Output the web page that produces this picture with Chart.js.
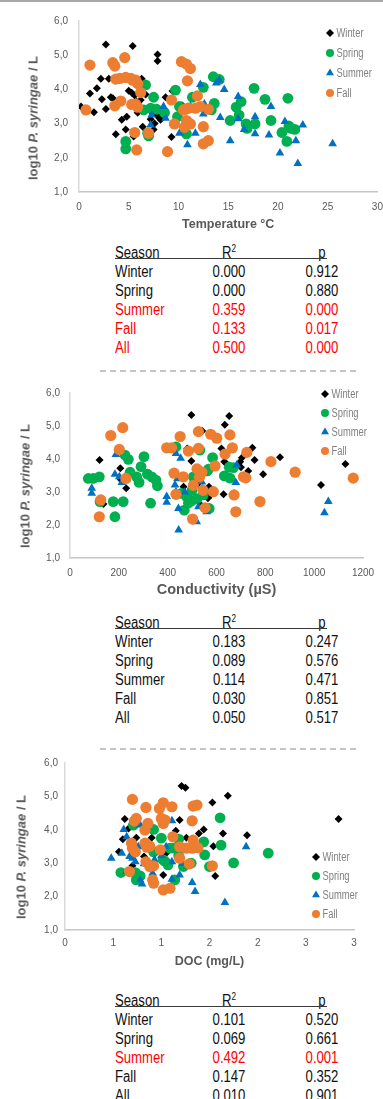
<!DOCTYPE html>
<html>
<head>
<meta charset="utf-8">
<script src="https://cdn.jsdelivr.net/npm/chart.js@4.4.1/dist/chart.umd.min.js"></script>
<style>
  html, body { margin: 0; padding: 0; background: #fff; }
  body { position: relative; width: 383px; height: 1099px; overflow: hidden; font-family: "Liberation Sans", Arial, sans-serif; }
  .topline { position: absolute; left: 0; top: 0; width: 383px; height: 2px; background: #a8a8a8; }
  canvas { position: absolute; left: 0; }
  .ytitle { position: absolute; font: bold 13px "Liberation Sans", Arial, sans-serif; color: #595959; white-space: nowrap; transform: translate(-50%, -50%) rotate(-90deg); }
  .cell { position: absolute; font-family: "Liberation Sans", Arial, sans-serif; font-size: 16px; line-height: 19px; height: 19px; white-space: nowrap; color: #111; }
  .cell.l { transform-origin: left center; transform: scaleX(0.82); }
  .cell.c { transform: translateX(-50%) scaleX(0.82); }
  .cell sup { font-size: 10px; line-height: 0; }
  .rule { position: absolute; left: 115px; width: 212px; height: 1.5px; background: #3a3a3a; }
  .dash { position: absolute; left: 100px; width: 258px; height: 1.5px; background: repeating-linear-gradient(to right, #c4c4c4 0 6px, transparent 6px 10px); }
</style>
</head>
<body>
<div class="topline"></div>

<canvas id="tempChart" width="383" height="240" style="top:0px"></canvas>
<div class="ytitle" style="left:33px; top:118px">log10 <i>P. syringae</i> / L</div>
<div id="tempTable"></div>
<div class="dash" style="top:370px"></div>

<canvas id="condChart" width="383" height="225" style="top:380px"></canvas>
<div class="ytitle" style="left:25px; top:486px">log10 <i>P. syringae</i> / L</div>
<div id="condTable"></div>
<div class="dash" style="top:748px"></div>

<canvas id="docChart" width="383" height="223" style="top:752px"></canvas>
<div class="ytitle" style="left:21px; top:857px">log10 <i>P. syringae</i> / L</div>
<div id="docTable"></div>

<script>
// Seizoenen en hun weergave
const seasonNames = ['Winter', 'Spring', 'Summer', 'Fall'];
const seasonColors = ['#000000', '#00B050', '#0070C0', '#ED7D31'];
const seasonStyles = ['rectRot', 'circle', 'triangle', 'circle'];
const seasonRadius = [4, 5.4, 5, 5.6];

// As-labels
const yTickLabels = ['1,0', '2,0', '3,0', '4,0', '5,0', '6,0'];
const tempTickLabels = ['0', '5', '10', '15', '20', '25', '30'];
const condTickLabels = ['0', '200', '400', '600', '800', '1000', '1200'];
const docTickLabels = ['0', '1', '1', '2', '2', '3', '3'];

// Temperatuur (°C) vs log10 P. syringae / L
const tempWinter = [[0.2,3.50],[1.1,3.88],[1.5,3.33],[1.8,4.03],[2.2,4.31],[2.3,3.71],[2.7,5.31],[2.7,3.43],[3.0,4.31],[3.2,3.77],[3.4,3.74],[3.7,2.69],[4.3,3.11],[4.7,2.83],[4.8,3.20],[5.0,3.96],[5.3,3.90],[5.4,5.27],[5.5,2.62],[5.6,3.82],[5.8,3.64],[5.9,3.32],[5.9,3.47],[6.0,3.50],[6.1,4.13],[6.2,3.69],[6.3,4.31],[6.4,2.91],[6.7,3.85],[7.2,3.13],[7.4,3.30],[7.5,2.83],[7.6,3.00],[7.8,3.25],[7.9,5.02],[7.9,4.83],[8.1,3.16],[8.2,3.11],[8.7,3.77],[9.3,2.61],[9.4,3.95],[10.4,3.53]];
const tempSpring = [[4.7,2.48],[4.7,2.26],[6.5,3.40],[6.7,4.13],[6.9,2.72],[7.0,2.64],[7.2,3.45],[7.5,3.77],[7.8,3.42],[8.6,3.32],[9.7,3.98],[9.9,3.20],[10.1,3.50],[10.8,2.70],[11.4,3.77],[12.5,4.06],[13.3,3.40],[13.5,4.37],[13.6,3.59],[14.1,4.29],[15.2,3.09],[15.8,3.48],[16.1,3.25],[16.3,3.64],[16.8,2.99],[16.9,2.86],[17.6,4.03],[17.7,2.99],[18.7,3.71],[19.3,3.09],[20.4,2.74],[20.9,2.48],[21.0,3.74],[21.1,2.93],[21.3,2.86],[21.7,2.83]];
const tempSummer = [[7.2,2.96],[7.3,3.25],[8.5,3.50],[8.7,3.16],[10.1,2.72],[10.9,2.38],[11.2,3.51],[11.7,2.72],[12.2,4.14],[12.5,3.28],[12.6,3.57],[13.8,4.19],[14.1,4.27],[14.2,3.18],[14.6,4.00],[15.2,2.50],[16.0,3.79],[16.0,3.14],[16.6,2.83],[17.7,3.20],[17.7,2.70],[19.1,2.67],[19.3,3.50],[20.2,2.14],[20.7,3.06],[21.8,2.50],[22.0,1.83],[22.5,2.96],[25.5,2.41]];
const tempFall = [[0.7,3.40],[1.1,4.71],[3.4,4.78],[3.6,4.68],[3.6,3.52],[3.7,4.30],[4.1,4.32],[4.2,3.66],[4.6,4.93],[4.7,4.35],[5.2,4.32],[5.3,3.56],[5.4,4.27],[5.6,2.74],[5.7,4.27],[5.7,3.57],[5.8,2.23],[5.9,4.17],[5.9,3.48],[6.2,3.91],[7.0,2.72],[8.9,2.18],[9.3,3.69],[9.6,2.99],[10.3,4.81],[10.5,3.40],[10.6,2.89],[10.7,3.42],[10.8,4.74],[10.8,3.09],[10.9,4.25],[11.0,3.45],[11.2,4.61],[11.2,2.99],[11.7,3.45],[11.9,3.81],[12.2,3.50],[12.5,2.91],[12.5,2.41],[13.0,3.42],[13.0,2.50]];

// Geleidbaarheid (µS) vs log10 P. syringae / L
const condWinter = [[121,3.97],[137,2.64],[206,3.72],[208,3.38],[230,3.11],[465,3.16],[480,4.32],[497,5.33],[497,3.94],[505,3.30],[521,3.23],[535,2.61],[542,4.85],[542,3.11],[560,3.60],[565,2.81],[569,3.16],[576,2.91],[620,4.32],[629,2.93],[632,3.92],[634,5.04],[640,3.86],[652,5.30],[697,3.92],[700,3.75],[704,4.04],[730,3.64],[747,4.34],[756,3.97],[791,3.54],[860,4.05],[1028,3.21],[1128,3.85]];
const condSpring = [[75,3.41],[95,3.41],[120,3.46],[123,2.71],[177,2.71],[184,2.25],[218,2.71],[225,4.12],[239,3.99],[246,3.60],[273,3.46],[283,3.29],[291,3.77],[303,4.07],[317,3.54],[330,2.66],[335,3.46],[352,3.36],[358,3.19],[434,4.37],[457,2.96],[468,2.45],[478,2.86],[485,2.66],[498,2.73],[500,3.05],[505,3.46],[520,2.80],[532,4.27],[546,2.91],[562,3.64],[567,3.69],[570,2.50],[584,4.04],[632,3.49],[652,3.75],[655,3.42],[669,3.74]];
const condSummer = [[89,3.11],[89,2.96],[184,3.54],[188,4.14],[202,3.46],[212,3.29],[396,2.86],[396,2.69],[430,3.21],[434,4.17],[434,3.01],[440,3.40],[444,2.50],[445,1.85],[453,4.02],[470,3.00],[505,3.21],[519,2.10],[526,2.55],[540,3.30],[560,2.40],[662,4.27],[679,3.29],[683,3.82],[1042,2.37],[1058,2.71]];
const condFall = [[120,2.25],[126,2.76],[167,4.71],[202,4.29],[216,4.95],[229,3.41],[396,4.34],[416,4.34],[426,3.57],[434,2.93],[451,4.68],[464,3.46],[485,4.24],[502,2.18],[505,3.20],[520,3.70],[526,4.83],[526,4.32],[530,3.45],[540,3.60],[545,3.05],[553,2.52],[576,4.75],[587,3.01],[594,3.79],[601,4.63],[635,4.15],[655,4.73],[665,4.34],[672,2.91],[679,2.40],[710,3.46],[720,3.43],[724,4.20],[778,2.71],[823,3.92],[922,3.60],[1160,3.42]];

// DOC (mg/L) vs log10 P. syringae / L
const docWinter = [[0.56,3.34],[0.60,3.72],[0.62,4.32],[0.66,4.04],[0.70,2.92],[0.74,3.76],[0.82,3.20],[0.88,2.85],[0.90,3.76],[1.02,2.65],[1.05,3.30],[1.15,3.97],[1.19,4.29],[1.21,5.31],[1.25,5.26],[1.26,3.76],[1.39,3.89],[1.44,4.01],[1.53,4.82],[1.54,3.51],[1.56,2.62],[1.64,3.89],[1.69,5.02],[1.89,3.84],[2.84,4.32]];
const docSpring = [[0.58,2.72],[0.71,4.14],[0.73,2.72],[0.74,2.50],[0.78,2.62],[0.92,4.01],[0.92,3.34],[1.00,3.75],[1.02,3.10],[1.04,3.05],[1.07,2.95],[1.09,3.45],[1.13,3.45],[1.14,2.50],[1.18,3.22],[1.18,3.72],[1.23,2.90],[1.31,3.00],[1.44,3.64],[1.45,3.25],[1.50,2.90],[1.61,4.36],[1.62,3.54],[1.75,3.01],[2.11,3.30]];
const docSummer = [[0.48,3.15],[0.59,3.30],[0.61,4.01],[0.64,3.79],[0.64,2.75],[0.67,3.20],[0.70,3.15],[0.73,3.04],[0.76,3.49],[0.78,4.14],[0.78,2.50],[0.80,2.38],[0.82,2.98],[0.91,2.70],[0.93,3.10],[1.00,3.22],[1.05,3.49],[1.11,4.27],[1.11,3.04],[1.11,2.52],[1.19,2.65],[1.22,3.00],[1.32,2.42],[1.35,2.15],[1.66,1.82],[1.88,3.49]];
const docFall = [[0.67,2.75],[0.69,3.60],[0.70,4.91],[0.70,3.45],[0.72,4.26],[0.73,3.34],[0.74,4.34],[0.83,3.99],[0.83,3.60],[0.84,4.67],[0.84,3.04],[0.85,3.48],[0.86,4.19],[0.88,3.51],[0.88,2.90],[0.91,2.50],[0.92,2.92],[0.92,2.40],[0.98,4.64],[0.99,3.40],[1.00,4.34],[1.02,4.81],[1.02,4.19],[1.02,2.20],[1.04,4.29],[1.09,2.25],[1.11,4.69],[1.12,3.79],[1.19,3.49],[1.19,3.15],[1.26,3.45],[1.29,2.98],[1.32,4.27],[1.32,3.45],[1.33,4.71],[1.33,3.69],[1.37,4.74],[1.38,3.46],[1.53,2.92]];

// Regressie-tabellen
const tableSeasons = ['Winter', 'Spring', 'Summer', 'Fall', 'All'];
const tempR2 = [0.000, 0.000, 0.359, 0.133, 0.500];
const tempP = [0.912, 0.880, 0.000, 0.017, 0.000];
const condR2 = [0.183, 0.089, 0.114, 0.030, 0.050];
const condP = [0.247, 0.576, 0.471, 0.851, 0.517];
const docR2 = [0.101, 0.069, 0.492, 0.147, 0.010];
const docP = [0.520, 0.661, 0.001, 0.352, 0.901];

// Tekent een marker in de vorm van het seizoen
function drawMarker(ctx, style, x, y, r) {
    ctx.beginPath();
    if (style === 'circle') {
        ctx.arc(x, y, r, 0, Math.PI * 2);
    } else if (style === 'rectRot') {
        ctx.moveTo(x, y - r); ctx.lineTo(x + r, y); ctx.lineTo(x, y + r); ctx.lineTo(x - r, y);
        ctx.closePath();
    } else {
        ctx.moveTo(x, y - r); ctx.lineTo(x + r * 0.866, y + r * 0.5); ctx.lineTo(x - r * 0.866, y + r * 0.5);
        ctx.closePath();
    }
    ctx.fill();
}

// Legenda binnen het grafiekvlak (smalle grijze tekst)
const insideLegend = {
    id: 'insideLegend',
    afterDatasetsDraw(chart, args, opts) {
        const ctx = chart.ctx;
        ctx.save();
        ctx.font = '12px "Liberation Sans", Arial, sans-serif';
        ctx.textBaseline = 'middle';
        chart.data.datasets.forEach((ds, i) => {
            const y = opts.y + i * opts.gap;
            ctx.fillStyle = ds.backgroundColor;
            drawMarker(ctx, ds.pointStyle, opts.x, y, ds.pointStyle === 'triangle' ? 4.6 : 4);
            ctx.save();
            ctx.translate(opts.x + 6.5, y + 0.5);
            ctx.scale(0.78, 1);
            ctx.fillStyle = '#808080';
            ctx.fillText(ds.label, 0, 0);
            ctx.restore();
        });
        ctx.restore();
    }
};

function seasonSets(lists) {
    return lists.map((pts, i) => ({
        label: seasonNames[i],
        data: pts.map(p => ({ x: p[0], y: p[1] })),
        pointStyle: seasonStyles[i],
        pointRadius: seasonRadius[i],
        pointHoverRadius: seasonRadius[i],
        backgroundColor: seasonColors[i],
        borderColor: seasonColors[i],
        pointBorderWidth: 0,
        order: 4 - i
    }));
}

function makeChart(id, lists, xTitle, titleSize, xMin, xMax, xStep, xLabels, g) {
    const tickFont = { family: '"Liberation Sans", Arial, sans-serif', size: 10 };
    return new Chart(document.getElementById(id), {
        type: 'scatter',
        data: { datasets: seasonSets(lists) },
        options: {
            responsive: false,
            animation: false,
            layout: { padding: { top: g.top, right: g.right, left: 0, bottom: 0 } },
            plugins: {
                legend: { display: false },
                tooltip: { enabled: false },
                insideLegend: { x: g.legX, y: g.legY, gap: g.legGap }
            },
            scales: {
                x: {
                    type: 'linear', min: xMin, max: xMax,
                    grid: { display: false, drawTicks: false },
                    border: { display: true, color: '#c6c6c6', width: 1.5 },
                    ticks: { stepSize: xStep, padding: g.xPad, color: '#595959', font: tickFont, maxRotation: 0,
                             callback: (v, i) => xLabels[i] },
                    title: { display: true, text: xTitle, color: '#595959',
                             font: { family: '"Liberation Sans", Arial, sans-serif', size: titleSize, weight: 'bold' },
                             padding: { top: 0, bottom: g.titlePad } },
                    afterFit: s => { s.height = g.xHeight; s.paddingLeft = 0; s.paddingRight = 0; }
                },
                y: {
                    type: 'linear', min: 1, max: 6,
                    grid: { display: false, drawTicks: false },
                    border: { display: true, color: '#d9d9d9', width: 1.5 },
                    ticks: { stepSize: 1, padding: g.yPad, color: '#595959', font: tickFont,
                             callback: (v, i) => yTickLabels[i] },
                    afterFit: s => { s.width = g.yWidth; s.paddingTop = 0; s.paddingBottom = 0; }
                }
            }
        },
        plugins: [insideLegend]
    });
}

// Tabel met R2 en p per seizoen; rood als p < 0,05
function buildTable(id, top, r2, p) {
    const box = document.getElementById(id);
    let html = '';
    const cell = (cls, x, y, txt, extra) =>
        '<div class="cell ' + cls + '" style="left:' + x + 'px;top:' + (y - 9.5) + 'px;' + (extra || '') + '">' + txt + '</div>';
    html += cell('l', 115, top, 'Season');
    html += cell('c', 229, top, 'R<sup>2</sup>');
    html += cell('c', 322, top, 'p');
    html += '<div class="rule" style="top:' + (top + 5.5) + 'px"></div>';
    tableSeasons.forEach((s, i) => {
        const y = top + 19 * (i + 1);
        const col = p[i] < 0.05 ? 'color:#ff0000;' : '';
        html += cell('l', 115, y, s, col);
        html += cell('c', 229, y, r2[i].toFixed(3), col);
        html += cell('c', 322, y, p[i].toFixed(3), col);
    });
    box.innerHTML = html;
}

window.onload = function () {
    makeChart('tempChart', [tempWinter, tempSpring, tempSummer, tempFall], 'Temperature °C', 12.5, 0, 30, 5, tempTickLabels,
        { top: 21, right: 5, yWidth: 79, yPad: 11, xHeight: 48, xPad: 9, titlePad: 7.5, legX: 330, legY: 33, legGap: 20 });
    makeChart('condChart', [condWinter, condSpring, condSummer, condFall], 'Conductivity (µS)', 14.5, 0, 1200, 200, condTickLabels,
        { top: 13, right: 20, yWidth: 70, yPad: 10, xHeight: 47, xPad: 9, titlePad: 6.3, legX: 325, legY: 14, legGap: 19 });
    makeChart('docChart', [docWinter, docSpring, docSummer, docFall], 'DOC (mg/L)', 12.5, 0, 3, 0.5, docTickLabels,
        { top: 11, right: 29, yWidth: 65, yPad: 7, xHeight: 45, xPad: 7, titlePad: 5.5, legX: 316, legY: 105, legGap: 19 });

    buildTable('tempTable', 252, tempR2, tempP);
    buildTable('condTable', 622, condR2, condP);
    buildTable('docTable', 1000, docR2, docP);
};
</script>
</body>
</html>
